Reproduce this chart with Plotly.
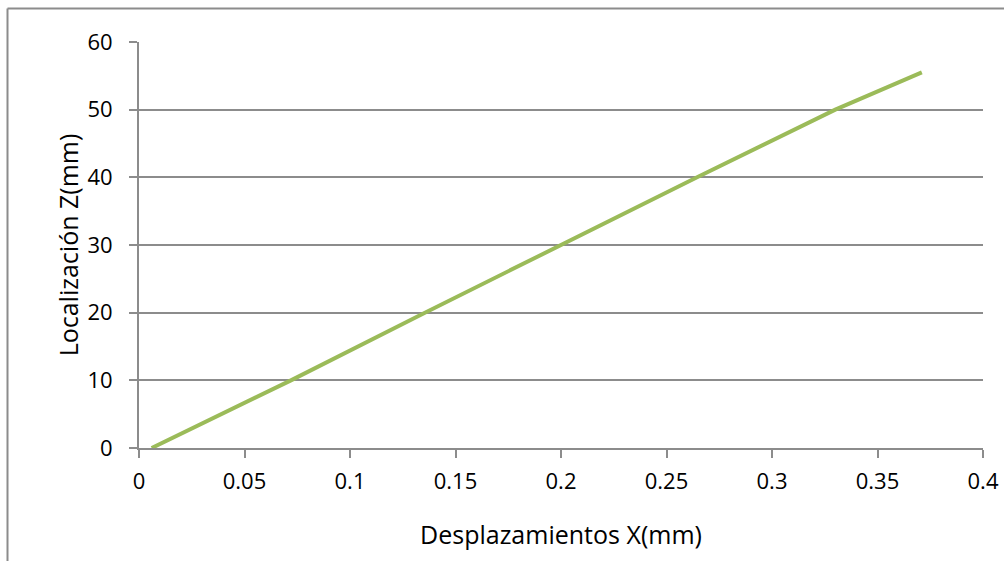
import plotly.graph_objects as go

# Data
desplazamiento_x = [0.006, 0.072, 0.1355, 0.1995, 0.2645, 0.330, 0.371]
localizacion_z = [0, 10, 20, 30, 40, 50, 55.5]

x_ticks = [0, 0.05, 0.1, 0.15, 0.2, 0.25, 0.3, 0.35, 0.4]
x_ticklabels = ["0", "0.05", "0.1", "0.15", "0.2", "0.25", "0.3", "0.35", "0.4"]
y_ticks = [0, 10, 20, 30, 40, 50, 60]

W, H = 1004, 561
L, R, T, B = 139, 21, 42, 113

fig = go.Figure()
fig.add_trace(go.Scatter(
    x=desplazamiento_x, y=localizacion_z, mode="lines",
    line=dict(color="#9BBB59", width=4), showlegend=False,
))

fam = "Open Sans, Liberation Sans, sans-serif"
tickfont = dict(family=fam, size=22, color="black")
titlefont = dict(family=fam, size=25, color="black")

fig.update_layout(
    width=W, height=H,
    margin=dict(l=L, r=R, t=T, b=B, pad=0, autoexpand=False),
    paper_bgcolor="white", plot_bgcolor="white",
    font=dict(family=fam, size=22, color="black"),
    xaxis=dict(
        range=[0, 0.4], tickvals=x_ticks, ticktext=x_ticklabels,
        automargin=False,
        showgrid=False, zeroline=False,
        showline=True, linecolor="#8c8c8c", linewidth=2,
        ticks="outside", ticklen=8, tickcolor="#8c8c8c", tickwidth=2,
        tickfont=tickfont,
        ticklabelstandoff=5,
        title=dict(text="Desplazamientos X(mm)", font=titlefont, standoff=32),
    ),
    yaxis=dict(
        range=[0, 60], tickvals=y_ticks,
        automargin=False,
        showgrid=True, gridcolor="#8c8c8c", gridwidth=1.5,
        zeroline=False,
        showline=True, linecolor="#8c8c8c", linewidth=2,
        ticks="outside", ticklen=8, tickcolor="#8c8c8c", tickwidth=2,
        tickfont=tickfont,
        ticklabelstandoff=12,
        title=dict(text="Localización Z(mm)", font=titlefont, standoff=2),
    ),
)

pw = W - L - R
ph = H - T - B
def px_x(p):
    return (p - L) / pw
def px_y(p):
    return (H - B - p) / ph

fig.add_shape(type="line", xref="paper", yref="paper",
              x0=px_x(7.5), y0=px_y(H + 2), x1=px_x(7.5), y1=px_y(8.5),
              line=dict(color="#8c8c8c", width=2))
fig.add_shape(type="line", xref="paper", yref="paper",
              x0=px_x(7.5), y0=px_y(8.5), x1=px_x(W + 2), y1=px_y(8.5),
              line=dict(color="#8c8c8c", width=2))

fig.write_html("out.html")
